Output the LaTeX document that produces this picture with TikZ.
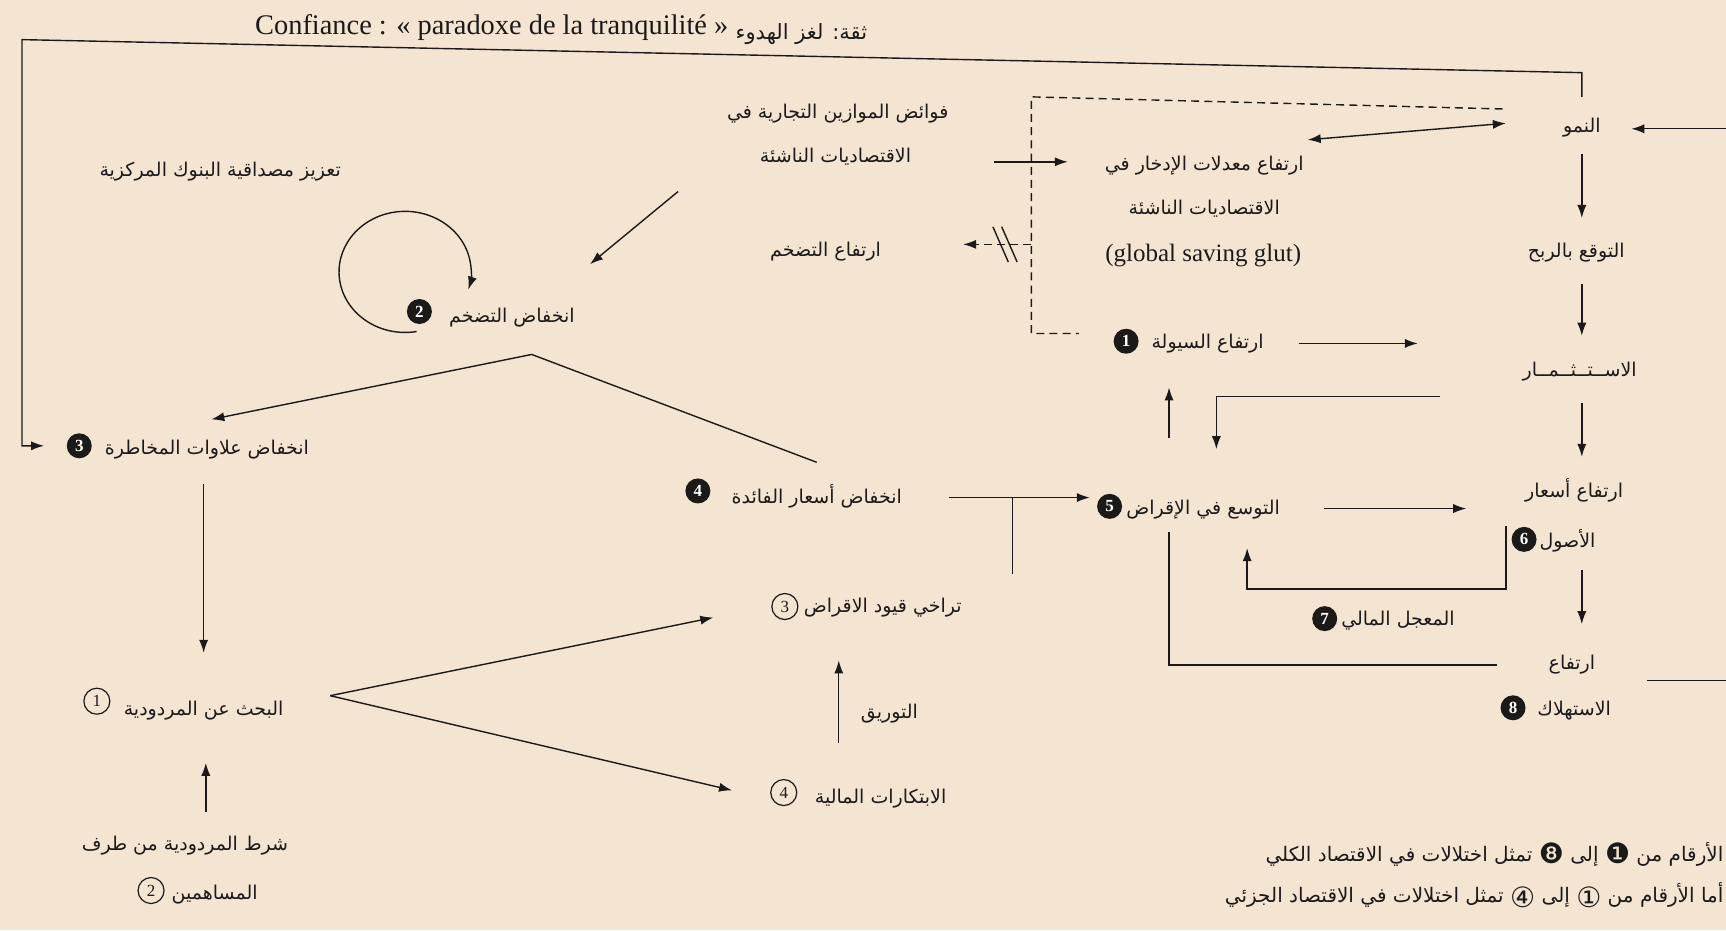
\documentclass[tikz,border=0pt]{standalone}
\usepackage{fontspec}
\setmainfont{Liberation Serif}
\newfontfamily\arfont[Script=Arabic]{DejaVu Sans}
\TeXXeTstate=1
\usetikzlibrary{arrows.meta,calc}
\definecolor{paper}{RGB}{243,229,210}
\definecolor{ink}{RGB}{28,26,24}
% large circled digits inside the legend lines
\newcommand{\bigdigit}[1]{{\fontsize{14}{14}\selectfont #1}}

\begin{document}
\begin{tikzpicture}[x=0.5504pt,y=-0.5504pt,
  ar/.style={font=\arfont\fontsize{9.5}{11}\selectfont, text=ink, inner sep=0pt,
             text height=9pt, text depth=3.5pt},
  lat/.style={font=\fontsize{12.5}{14}\selectfont, text=ink, inner sep=0pt},
  fm/.style={circle, fill=ink, text=white, inner sep=0pt, minimum size=12.5pt,
             font=\bfseries\fontsize{8.5}{8.5}\selectfont},
  om/.style={circle, draw=ink, line width=0.6pt, text=ink, inner sep=0pt,
             minimum size=13pt, font=\fontsize{8.5}{8.5}\selectfont},
  ln/.style={draw=ink, line width=0.7pt},
  arr/.style={ln, -{Latex[length=6.5pt,width=4.6pt]}},
  dbl/.style={ln, {Latex[length=6.5pt,width=4.6pt]}-{Latex[length=6.5pt,width=4.6pt]}},
  dsh/.style={ln, dash pattern=on 4pt off 2.6pt},
]
% paper and page frame
\fill[paper] (0,0) rectangle (1568,845);
\useasboundingbox (0,0) rectangle (1568,845);

% title
\node[lat, font=\fontsize{14.2}{16}\selectfont, anchor=base east] (titleFr) at (662,31)
  {Confiance : « paradoxe de la tranquilité »};
\node[ar, font=\arfont\fontsize{10.5}{12}\selectfont, anchor=base west] (titleAr) at (668,36)
  {\beginR ثقة: لغز الهدوء\endR};

% macro chain (right column)
\node[ar] (grow)   at (1437,115) {\beginR النمو\endR};
\node[ar] (expect) at (1432,229) {\beginR التوقع بالربح\endR};
\node[ar] (invest) at (1435,337) {\beginR الاســتــثــمــار\endR};
\node[ar] (asset1) at (1430,447) {\beginR ارتفاع أسعار\endR};
\node[ar] (asset2) at (1424,492) {\beginR الأصول\endR};
\node[fm, anchor=east] (m6) at ($(asset2.west)+(-2,-2)$) {6};
\node[ar] (cons1)  at (1428,603) {\beginR ارتفاع\endR};
\node[ar] (cons2)  at (1430,645) {\beginR الاستهلاك\endR};
\node[fm, anchor=east] (m8) at ($(cons2.west)+(-10,-2)$) {8};

% credit, liquidity, savings
\node[ar] (credit) at (1093,462) {\beginR التوسع في الإقراض\endR};
\node[fm] (m5)     at (1008,460) {5};
\node[ar] (liq)    at (1097,312) {\beginR ارتفاع السيولة\endR};
\node[fm] (m1)     at (1023,310) {1};
\node[ar] (accel)  at (1270,563) {\beginR المعجل المالي\endR};
\node[fm, anchor=east] (m7) at ($(accel.west)+(-3,-1)$) {7};
\node[ar] (save1)  at (1094,150) {\beginR ارتفاع معدلات الإدخار في\endR};
\node[ar] (save2)  at (1094,190) {\beginR الاقتصاديات الناشئة\endR};
\node[lat] (save3) at (1093,232) {(global saving glut)};

% trade surpluses and inflation
\node[ar] (surp1)  at (761,103) {\beginR فوائض الموازين التجارية في\endR};
\node[ar] (surp2)  at (759,143) {\beginR الاقتصاديات الناشئة\endR};
\node[ar] (inflUp) at (750,228) {\beginR ارتفاع التضخم\endR};
\node[ar] (cred)   at (200,155) {\beginR تعزيز مصداقية البنوك المركزية\endR};
\node[ar] (inflDown) at (465,288) {\beginR انخفاض التضخم\endR};
\node[fm] (m2)     at (381,283) {2};
\node[ar] (risk)   at (188,408) {\beginR انخفاض علاوات المخاطرة\endR};
\node[fm] (m3)     at (72,405) {3};
\node[ar] (rate)   at (742,452) {\beginR انخفاض أسعار الفائدة\endR};
\node[fm] (m4)     at (634,446) {4};

% micro level
\node[ar] (yield)  at (185,645) {\beginR البحث عن المردودية\endR};
\node[om] (o1)     at (88,637) {1};
\node[ar] (share1) at (168,768) {\beginR شرط المردودية من طرف\endR};
\node[ar] (share2) at (195,812) {\beginR المساهمين\endR};
\node[om, anchor=east] (o2) at ($(share2.west)+(-6,-3)$) {2};
\node[ar] (loosen) at (802,551) {\beginR تراخي قيود الاقراض\endR};
\node[om] (o3)     at (713,551) {3};
\node[ar] (innov)  at (800,725) {\beginR الابتكارات المالية\endR};
\node[om] (o4)     at (712,720) {4};
\node[ar] (secur)  at (808,648) {\beginR التوريق\endR};

% legend
\node[ar, font=\arfont\fontsize{10}{12}\selectfont, anchor=east] (leg1) at (1566,778)
  {\beginR الأرقام من \raisebox{-1pt}{\bigdigit{❶}} إلى \raisebox{-1pt}{\bigdigit{❽}} تمثل اختلالات في الاقتصاد الكلي\endR};
\node[ar, font=\arfont\fontsize{10}{12}\selectfont, anchor=east] (leg2) at (1566,815)
  {\beginR أما الأرقام من \raisebox{-2.5pt}{\bigdigit{①}} إلى \raisebox{-2.5pt}{\bigdigit{④}} تمثل اختلالات في الاقتصاد الجزئي\endR};

% free corners
\coordinate (fbTL) at (20,36);
\coordinate (dk1) at (937,88);
\coordinate (dk2) at (937,303);
\coordinate (dk3) at (937,222);

% confidence feedback from growth to risk premia
\draw[arr] ($(grow)+(0,-27)$) -- ($(grow)+(0,-49)$) -- (fbTL) -- (fbTL |- m3)
  -- ($(m3)+(-32,0)$);
% consumption back to growth (off the right edge)
\draw[arr] ($(grow)+(131,2)$) -- ($(grow)+(45,2)$);
\draw[ln] ($(cons1)+(68,15)$) -- ($(cons1)+(140,15)$);
\draw[ln] ($(cons1)+(-68,1)$) -| ($(credit)+(-31,21)$);

% savings and growth
\draw[dbl] ($(save1)+(94,-23)$) -- ($(grow)+(-69,-3)$);
\draw[arr] ($(surp2)+(144,4)$) -- ($(save1)+(-124,-3)$);
\draw[dsh] ($(grow)+(-72,-16)$) -- (dk1) -- (dk2) -- ($(m1)+(-43,-7)$);
\draw[dsh, -{Latex[length=6.5pt,width=4.6pt]}] (dk3) -- ($(inflUp)+(125,-6)$);
\draw[ln] ($(dk3)+(-35,-16)$) -- ($(dk3)+(-21,16)$);
\draw[ln] ($(dk3)+(-27,-16)$) -- ($(dk3)+(-13,16)$);

% disinflation
\draw[arr] ($(surp2)+(-143,31)$) -- ($(inflDown)+(71,-48)$);
\draw[arr] ($(m2)+(-13,-36)+(80:60 and 55)$)
  arc[start angle=80, end angle=377, x radius=60, y radius=55];
\draw[arr] ($(rate)+(0,-32)$) -- ($(inflDown)+(18,34)$) -- ($(risk)+(4,-27)$);

% search for yield
\draw[arr] ($(risk)+(-3,32)$) -- ($(yield)+(0,-52)$);
\draw[arr] ($(yield)+(2,93)$) -- ($(yield)+(2,48)$);
\draw[arr] ($(yield)+(115,-13)$) -- ($(o3)+(-65,10)$);
\draw[arr] ($(yield)+(115,-13)$) -- ($(o4)+(-47,-2)$);
\draw[arr] ($(innov)+(-38,-50)$) -- ($(innov)+(-38,-125)$);

% towards credit expansion
\draw[arr] ($(rate)+(120,0)$) -- ($(m5)+(-18,-8)$);
\draw[ln] ($(loosen)+(118,-30)$) -- ($(rate)+(178,0)$);
\draw[arr] ($(credit)+(-31,-64)$) -- ($(liq)+(-35,40)$);
\draw[arr] ($(invest)+(-127,23)$) -| ($(credit)+(12,-54)$);
\draw[arr] ($(liq)+(83,0)$) -- ($(liq)+(191,0)$);
\draw[arr] ($(credit)+(110,0)$) -- ($(credit)+(239,0)$);
\draw[arr] ($(asset1)+(-62,31)$) |- ($(credit)+(40,73)$) -- ($(credit)+(40,36)$);

% vertical chain
\draw[arr] ($(grow)+(0,25)$) -- ($(grow)+(0,83)$);
\draw[arr] ($(expect)+(5,29)$) -- ($(expect)+(5,76)$);
\draw[arr] ($(invest)+(2,29)$) -- ($(invest)+(2,78)$);
\draw[arr] ($(asset1)+(7,71)$) -- ($(asset1)+(7,120)$);
\end{tikzpicture}
\end{document}
